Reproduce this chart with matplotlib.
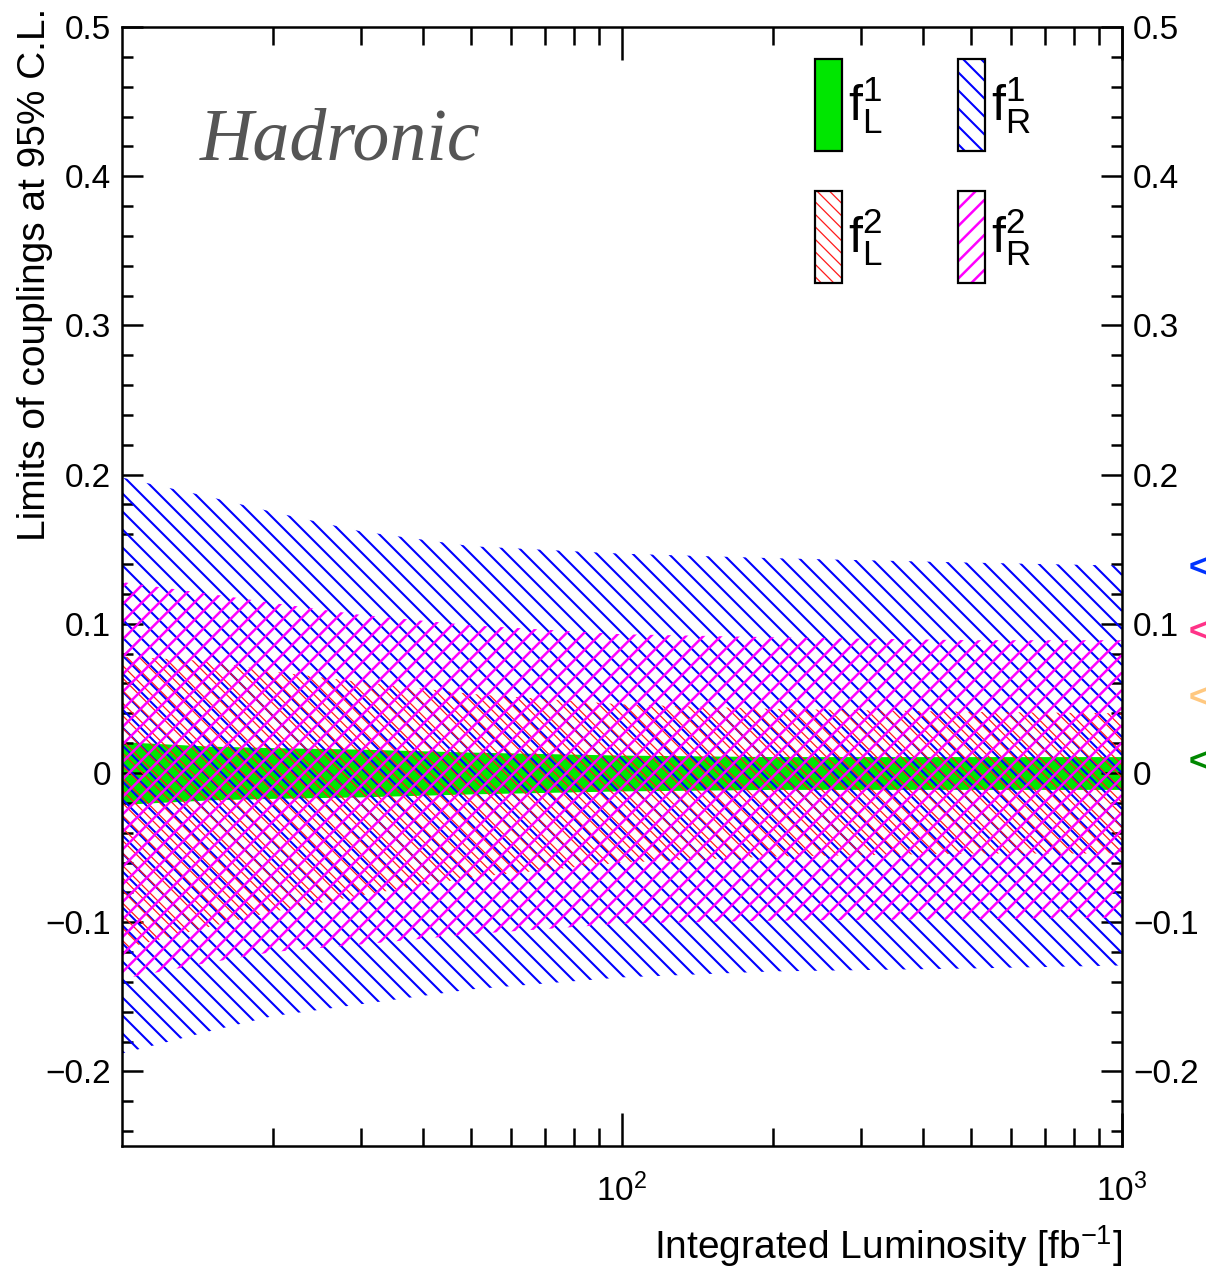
import numpy as np
import matplotlib.pyplot as plt
from matplotlib.patches import Patch, Rectangle
from matplotlib.collections import LineCollection
from matplotlib.ticker import MultipleLocator, FixedLocator, FuncFormatter
from matplotlib.legend_handler import HandlerBase

plt.rcParams['font.family'] = ['Liberation Sans', 'DejaVu Sans']
plt.rcParams['mathtext.default'] = 'regular'

# Integrated luminosity points [fb^-1]
lumi = np.array([10, 15, 20, 30, 50, 100, 200, 500, 1000])

# 95% C.L. limits (upper / lower) for each coupling
fL1_up = np.array([0.021, 0.018, 0.017, 0.016, 0.014, 0.012, 0.011, 0.011, 0.011])
fL1_lo = np.array([-0.021, -0.018, -0.017, -0.016, -0.014, -0.012, -0.011, -0.011, -0.011])
fR1_up = np.array([0.198, 0.185, 0.175, 0.162, 0.152, 0.147, 0.144, 0.141, 0.139])
fR1_lo = np.array([-0.188, -0.173, -0.163, -0.155, -0.145, -0.137, -0.133, -0.131, -0.129])
fL2_up = np.array([0.078, 0.075, 0.068, 0.061, 0.053, 0.046, 0.043, 0.041, 0.040])
fL2_lo = np.array([-0.118, -0.103, -0.093, -0.082, -0.070, -0.060, -0.056, -0.054, -0.054])
fR2_up = np.array([0.128, 0.120, 0.114, 0.106, 0.099, 0.093, 0.091, 0.089, 0.089])
fR2_lo = np.array([-0.138, -0.127, -0.120, -0.115, -0.108, -0.101, -0.099, -0.098, -0.097])

# markers on the right edge of the figure
side_y = [0.137, 0.094, 0.050, 0.007]
side_colors = ['#0033ff', '#ff3388', '#ffc880', '#008800']

# hatch styles: colour, spacing [px], slope (-1 = '\', +1 = '/'), linewidth [pt]
STYLE_R1 = ('#0000ff', 18.0, -1, 0.75)
STYLE_L2 = ('#ff1a1a', 12.5, -1, 0.45)
STYLE_R2 = ('#ff00ff', 17.5, 1, 0.9)
GREEN = '#00e600'

fig = plt.figure(figsize=(6.03, 6.35), dpi=200)
ax = fig.add_axes([122 / 1206, 1 - 1146 / 1270, 1000 / 1206, 1119 / 1270])


def hatch_band(lo, up, style):
    color, spacing, slope, lw = style
    band = ax.fill_between(lumi, lo, up, facecolor='none', linewidth=0)
    W, H = ax.bbox.width, ax.bbox.height
    offs = np.arange(-(W + H), W + H, spacing)
    segs = [[(0, c / H), (1, (c + slope * W) / H)] for c in offs]
    lc = LineCollection(segs, colors=color, linewidths=lw, transform=ax.transAxes)
    ax.add_collection(lc, autolim=False)
    lc.set_clip_path(band.get_paths()[0], band.get_transform())
    return band


ax.fill_between(lumi, fL1_lo, fL1_up, color=GREEN, linewidth=0)
hatch_band(fR1_lo, fR1_up, STYLE_R1)
hatch_band(fL2_lo, fL2_up, STYLE_L2)
hatch_band(fR2_lo, fR2_up, STYLE_R2)

ax.set_xscale('log')
ax.set_xlim(10, 1000)
ax.set_ylim(-0.25, 0.5)

ax.xaxis.set_major_locator(FixedLocator([100, 1000]))
ax.xaxis.set_minor_locator(FixedLocator([20, 30, 40, 50, 60, 70, 80, 90,
                                         200, 300, 400, 500, 600, 700, 800, 900]))
ax.xaxis.set_minor_formatter(FuncFormatter(lambda v, p: ''))
ax.yaxis.set_major_locator(MultipleLocator(0.1))
ax.yaxis.set_minor_locator(MultipleLocator(0.02))


def yfmt(v, pos):
    if abs(v) < 1e-9:
        return '0'
    return f'{v:g}'.replace('-', '\u2212')


ax.yaxis.set_major_formatter(FuncFormatter(yfmt))

ax.tick_params(which='both', direction='in', top=True, right=True,
               labelright=True, labelsize=12, width=0.9, colors='black')
ax.tick_params(axis='y', which='major', length=7.5, pad=4)
ax.tick_params(axis='y', which='minor', length=4)
ax.tick_params(axis='x', which='major', length=12, pad=10)
ax.tick_params(axis='x', which='minor', length=6.5)
for s in ax.spines.values():
    s.set_linewidth(0.9)

fig.text(1122 / 1206, 1 - 1246 / 1270, 'Integrated Luminosity [fb$^{-1}$]',
         ha='right', va='center', fontsize=14)
fig.text(35 / 1206, 1 - 8 / 1270, 'Limits of couplings at 95% C.L.',
         rotation=90, ha='center', va='top', fontsize=14)

fig.text(200 / 1206, 1 - 160 / 1270, 'Hadronic', family='Liberation Serif',
         style='italic', fontsize=26.6, color='#555555', va='baseline')


# legend boxes with the same hatch as the bands
class HatchBox(HandlerBase):
    def __init__(self, style):
        super().__init__()
        self.style = style

    def create_artists(self, legend, orig_handle, xdescent, ydescent,
                       width, height, fontsize, trans):
        color, spacing, slope, lw = self.style
        x0, y0 = -xdescent, -ydescent
        box = Rectangle((x0, y0), width, height, facecolor='white',
                        edgecolor='none', transform=trans)
        sp = spacing * 72 / fig.dpi
        offs = np.arange(-(width + height), width + height, sp)
        segs = [[(x0, y0 + c), (x0 + width, y0 + c + slope * width)] for c in offs]
        lc = LineCollection(segs, colors=color, linewidths=lw, transform=trans)
        lc.set_clip_path(box)
        edge = Rectangle((x0, y0), width, height, facecolor='none',
                         edgecolor='black', linewidth=0.8, transform=trans)
        return [box, lc, edge]


h_fL1 = Patch(facecolor=GREEN, edgecolor='black', linewidth=0.8)
h_fR1, h_fL2, h_fR2 = Patch(), Patch(), Patch()
ax.legend([h_fL1, h_fL2, h_fR1, h_fR2],
          ['f$^{1}_{L}$', 'f$^{2}_{L}$', 'f$^{1}_{R}$', 'f$^{2}_{R}$'],
          handler_map={h_fR1: HatchBox(STYLE_R1), h_fL2: HatchBox(STYLE_L2),
                       h_fR2: HatchBox(STYLE_R2)},
          ncol=2, loc='upper left', bbox_to_anchor=(815 / 1206, 1 - 59 / 1270),
          bbox_transform=fig.transFigure, frameon=False, fontsize=18,
          handlelength=0.54, handleheight=2.45, labelspacing=0.8,
          handletextpad=0.12, columnspacing=1.5, borderpad=0, borderaxespad=0)

for yv, c in zip(side_y, side_colors):
    fig.text(1189 / 1206, ax.transData.transform((10, yv))[1] / 1270, '<',
             color=c, fontsize=12, fontweight='bold', ha='left', va='center')

fig.savefig('out.png', dpi=200)
